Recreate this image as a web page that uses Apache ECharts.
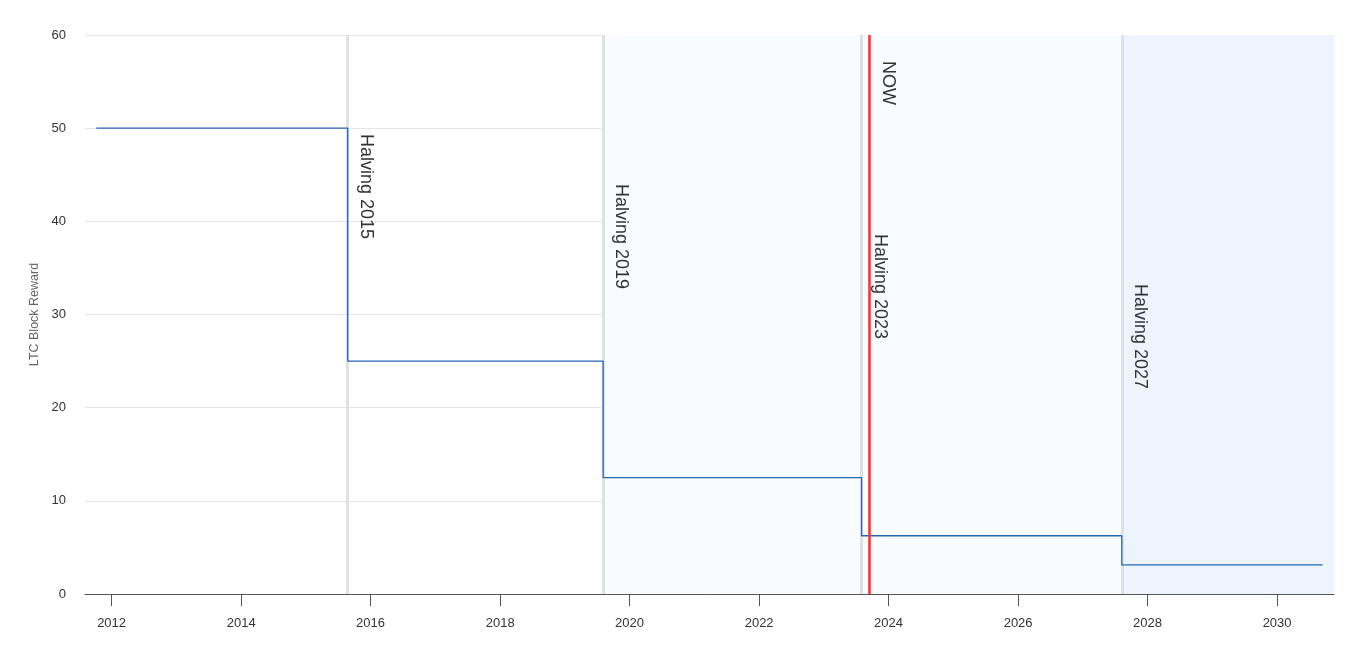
<!DOCTYPE html>
<html>
<head>
<meta charset="utf-8">
<script src="https://cdn.jsdelivr.net/npm/echarts@6/dist/echarts.min.js"></script>
<style>
html,body{margin:0;padding:0;background:#fff;}
#chart{width:1351px;height:660px;}
</style>
</head>
<body>
<div id="chart"></div>
<script>
// ---- data ----
const stepDates = ['2011-10-07', '2015-08-25', '2019-08-05', '2023-08-02', '2027-08-09', '2030-09-14'];
const blockRewards = [50, 25, 12.5, 6.25, 3.125, 3.125];
const halvingDates = ['2015-08-25', '2019-08-05', '2023-08-02', '2027-08-09'];
const halvingLabels = ['Halving 2015', 'Halving 2019', 'Halving 2023', 'Halving 2027'];
const nowDate = '2023-09-13';
const nowLabel = 'NOW';
const xTickYears = [2012, 2014, 2016, 2018, 2020, 2022, 2024, 2026, 2028, 2030];
const yTicks = [0, 10, 20, 30, 40, 50, 60];
const axisStart = '2011-08-04';
const axisEnd = '2030-11-18';
const yTitle = 'LTC Block Reward';

// ---- style (positions of rotated labels, px below plot top) ----
const halvingLabelOffsets = [99, 149, 199, 249];
const nowLabelOffset = 26;
const FONT = 'Liberation Sans, Arial, sans-serif';

function ts(s) {
  const p = s.split('-').map(Number);
  return new Date(p[0], p[1] - 1, p[2]).getTime();
}
const yearTicks = xTickYears.map(y => new Date(y, 0, 1).getTime());

const chart = echarts.init(document.getElementById('chart'));

const labelItems = halvingDates.map((d, i) => [ts(d), 0, halvingLabels[i], halvingLabelOffsets[i], 18])
  .concat([[ts(nowDate), 0, nowLabel, nowLabelOffset, 19]]);

const option = {
  animation: false,
  backgroundColor: '#ffffff',
  grid: { left: 85, right: 17, top: 35, bottom: 66, containLabel: false },
  xAxis: {
    type: 'value',
    min: ts(axisStart),
    max: ts(axisEnd),
    splitLine: { show: false },
    axisLine: { show: true, lineStyle: { color: '#555', width: 1 } },
    axisTick: {
      show: true, length: 12, lineStyle: { color: '#555' },
      customValues: yearTicks
    },
    axisLabel: {
      color: '#333', fontSize: 13, fontFamily: FONT, margin: 23,
      customValues: yearTicks,
      formatter: v => String(new Date(v).getFullYear())
    }
  },
  yAxis: {
    type: 'value',
    min: yTicks[0],
    max: yTicks[yTicks.length - 1],
    interval: 10,
    name: yTitle,
    nameLocation: 'middle',
    nameRotate: 90,
    nameGap: 44,
    nameTextStyle: { color: '#666', fontSize: 12.5, fontFamily: FONT },
    axisLine: { show: false },
    axisTick: { show: false },
    splitLine: { show: true, lineStyle: { color: '#e6e6e6', width: 1 } },
    axisLabel: { color: '#333', fontSize: 13, fontFamily: FONT, margin: 19 }
  },
  series: [
    {
      name: 'bands',
      type: 'line',
      data: [],
      z: 1,
      silent: true,
      markArea: {
        silent: true,
        z: 0,
        data: [
          [{ xAxis: ts(halvingDates[1]), itemStyle: { color: '#f8fbff' } }, { xAxis: ts(halvingDates[3]) }],
          [{ xAxis: ts(halvingDates[3]), itemStyle: { color: '#edf4fd' } }, { xAxis: ts(axisEnd) }]
        ]
      },
      markLine: {
        silent: true,
        z: 1,
        symbol: ['none', 'none'],
        label: { show: false },
        lineStyle: { color: '#dfe1e5', width: 3, type: 'solid' },
        data: halvingDates.map(d => ({ xAxis: ts(d) }))
      }
    },
    {
      name: 'LTC Block Reward',
      type: 'line',
      step: 'end',
      showSymbol: false,
      symbol: 'none',
      z: 3,
      lineStyle: { color: '#2466b6', width: 1.3 },
      data: stepDates.map((d, i) => [ts(d), blockRewards[i]])
    },
    {
      name: 'now',
      type: 'line',
      data: [],
      z: 4,
      silent: true,
      markLine: {
        silent: true,
        z: 4,
        symbol: ['none', 'none'],
        label: { show: false },
        lineStyle: { color: '#ff3333', width: 2.6, type: 'solid' },
        data: [{ xAxis: ts(nowDate) }]
      }
    },
    {
      name: 'labels',
      type: 'custom',
      z: 6,
      silent: true,
      clip: false,
      data: labelItems,
      renderItem: function (params, api) {
        const item = labelItems[params.dataIndex];
        const px = api.coord([api.value(0), 0])[0];
        const cs = params.coordSys;
        return {
          type: 'text',
          x: px + item[4],
          y: cs.y + item[3],
          rotation: -Math.PI / 2,
          style: {
            text: item[2],
            fill: '#333',
            fontSize: 18,
            fontFamily: FONT,
            align: 'left',
            verticalAlign: 'middle'
          }
        };
      }
    }
  ]
};
chart.setOption(option);
</script>
</body>
</html>
